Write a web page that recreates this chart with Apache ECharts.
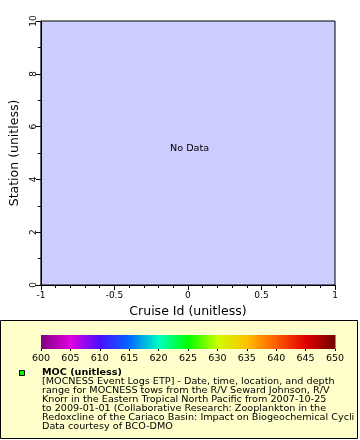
<!DOCTYPE html>
<html>
<head>
<meta charset="utf-8">
<script src="https://cdn.jsdelivr.net/npm/echarts@6/dist/echarts.min.js"></script>
<style>html,body{margin:0;padding:0;background:#fff}#c{width:360px;height:440px}</style>
</head>
<body>
<div id="c"></div>
<script>
// Axis ranges / ticks
var xRange = [-1, 1];
var xInterval = 0.5;
var yRange = [0, 10];
var yInterval = 2;
// Colorbar
var cbValues = [600, 605, 610, 615, 620, 625, 630, 635, 640, 645, 650];
var cbColors = ['#800080', '#e000e0', '#4a10ff', '#0068ff', '#00ffc4', '#00ff00', '#ccff00', '#ffc000', '#ff5a00', '#e00000', '#700000'];
// Texts
var xTitle = 'Cruise Id (unitless)';
var yTitle = 'Station (unitless)';
var noDataText = 'No Data';
var legendTitle = 'MOC (unitless)';
var legendLines = [
  '[MOCNESS Event Logs ETP] - Date, time, location, and depth',
  'range for MOCNESS tows from the R/V Seward Johnson, R/V',
  'Knorr in the Eastern Tropical North Pacific from 2007-10-25',
  'to 2009-01-01 (Collaborative Research: Zooplankton in the',
  'Redoxcline of the Cariaco Basin: Impact on Biogeochemical Cycling',
  'Data courtesy of BCO-DMO'
];

var FONT = 'DejaVu Sans';
var SX = 1.07;
var chart = echarts.init(document.getElementById('c'));

var segs = [];
for (var i = 0; i < cbValues.length - 1; i++) segs.push([cbValues[i], cbValues[i + 1]]);

var graphics = [
  {type: 'rect', z: -10, shape: {x: 0.5, y: 320.5, width: 357, height: 118},
   style: {fill: '#ffffcc', stroke: '#000', lineWidth: 1}},
  {type: 'rect', z: 10, shape: {x: 19.5, y: 370.5, width: 5, height: 5},
   style: {fill: '#00ff00', stroke: '#000', lineWidth: 1}},
  {type: 'text', z: 10, x: 170, y: 149, scaleX: SX,
   style: {text: noDataText, font: '9px "' + FONT + '"', fill: '#000', verticalAlign: 'middle'}},
  {type: 'text', z: 10, x: 42, y: 372.5, scaleX: SX,
   style: {text: legendTitle, font: 'bold 9px "' + FONT + '"', fill: '#000', verticalAlign: 'middle'}}
];
legendLines.forEach(function (t, k) {
  graphics.push({type: 'text', z: 10, x: 42, y: 381.5 + 9 * k, scaleX: SX,
    style: {text: t, font: '9px "' + FONT + '"', fill: '#000', verticalAlign: 'middle',
      width: 315 / SX, overflow: 'truncate', ellipsis: ''}});
});

chart.setOption({
  backgroundColor: '#fff',
  animation: false,
  textStyle: {fontFamily: FONT},
  grid: [
    {left: 37, top: 21, width: 298, height: 264, show: true, backgroundColor: '#ccccff', borderColor: '#000', borderWidth: 1},
    {left: 41, top: 335, width: 294, height: 14, show: false}
  ],
  xAxis: [
    {gridIndex: 0, type: 'value', min: xRange[0], max: xRange[1], interval: xInterval,
     name: xTitle, nameLocation: 'middle', nameGap: 19,
     nameTextStyle: {fontSize: 12.5, color: '#000', fontFamily: FONT},
     axisLine: {show: true, onZero: false, lineStyle: {color: '#000', width: 1}},
     axisTick: {show: true, inside: false, length: 5, lineStyle: {color: '#000'}},
     minorTick: {show: true, splitNumber: 5, length: 3, lineStyle: {color: '#000'}},
     splitLine: {show: false},
     axisLabel: {fontSize: 9, color: '#000', margin: 6, fontFamily: FONT}},
    {gridIndex: 1, type: 'value', min: cbValues[0], max: cbValues[cbValues.length - 1], interval: 5,
     axisLine: {show: false},
     axisTick: {show: true, length: 2, lineStyle: {color: '#000'}},
     splitLine: {show: false},
     axisLabel: {fontSize: 9.5, color: '#000', margin: 5, fontFamily: FONT}}
  ],
  yAxis: [
    {gridIndex: 0, type: 'value', min: yRange[0], max: yRange[1], interval: yInterval,
     name: yTitle, nameLocation: 'middle', nameGap: 17,
     nameTextStyle: {fontSize: 12.5, color: '#000', fontFamily: FONT},
     axisLine: {show: true, onZero: false, lineStyle: {color: '#000', width: 1}},
     axisTick: {show: true, inside: false, length: 5, lineStyle: {color: '#000'}},
     minorTick: {show: true, splitNumber: 2, length: 3, lineStyle: {color: '#000'}},
     splitLine: {show: false},
     axisLabel: {fontSize: 9, color: '#000', margin: 3, rotate: 90, fontFamily: FONT}},
    {gridIndex: 1, type: 'value', min: 0, max: 1, show: false}
  ],
  series: [
    {type: 'custom', xAxisIndex: 1, yAxisIndex: 1, data: segs, silent: true,
     renderItem: function (params, api) {
       var p0 = api.coord([api.value(0), 1]);
       var p1 = api.coord([api.value(1), 0]);
       var i = params.dataIndex;
       return {type: 'rect', shape: {x: p0[0], y: p0[1], width: p1[0] - p0[0] + 0.5, height: p1[1] - p0[1]},
         style: {fill: new echarts.graphic.LinearGradient(0, 0, 1, 0, [
           {offset: 0, color: cbColors[i]}, {offset: 1, color: cbColors[i + 1]}])}};
     }}
  ],
  graphic: graphics
});
</script>
</body>
</html>
